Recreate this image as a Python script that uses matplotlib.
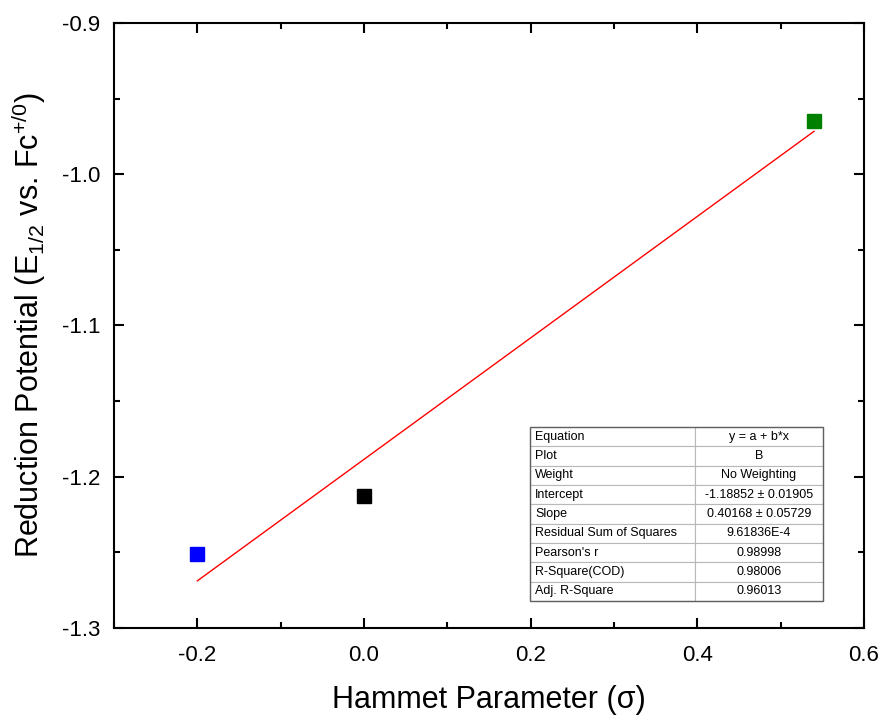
import matplotlib
matplotlib.use("Agg")
import matplotlib.pyplot as plt
import numpy as np
from matplotlib.ticker import MultipleLocator
from matplotlib.patches import Rectangle

plt.rcParams['font.family'] = ['Liberation Sans', 'DejaVu Sans']
plt.rcParams['mathtext.fontset'] = 'custom'
plt.rcParams['mathtext.rm'] = 'Liberation Sans'
plt.rcParams['mathtext.it'] = 'Liberation Sans:italic'
plt.rcParams['mathtext.default'] = 'regular'

# Data
sigma = [-0.2, 0.0, 0.54]
e_half = [-1.251, -1.2127, -0.9648]
colors = ['#0000ff', '#000000', '#008000']

intercept = -1.18852
slope = 0.40168

x_ticks = [-0.2, 0.0, 0.2, 0.4, 0.6]
x_ticklabels = ['-0.2', '0.0', '0.2', '0.4', '0.6']
y_ticks = [-1.3, -1.2, -1.1, -1.0, -0.9]
y_ticklabels = ['-1.3', '-1.2', '-1.1', '-1.0', '-0.9']

table_labels = ["Equation", "Plot", "Weight", "Intercept", "Slope",
                "Residual Sum of Squares", "Pearson's r", "R-Square(COD)", "Adj. R-Square"]
table_values = ["y = a + b*x", "B", "No Weighting", "-1.18852 \u00b1 0.01905",
                "0.40168 \u00b1 0.05729", "9.61836E-4", "0.98998", "0.98006", "0.96013"]

fig = plt.figure(figsize=(8.85, 7.19), dpi=100)
ax = fig.add_axes([0.1288, 0.1266, 0.8475, 0.8414])

xfit = np.array([min(sigma), max(sigma)])
ax.plot(xfit, intercept + slope * xfit, color='red', lw=1.0, zorder=2)
for x, y, c in zip(sigma, e_half, colors):
    ax.plot([x], [y], marker='s', ms=9.5, color=c, mec=c, ls='none', zorder=3)

ax.set_xlim(-0.3, 0.6)
ax.set_ylim(-1.3, -0.9)
ax.xaxis.set_minor_locator(MultipleLocator(0.1))
ax.yaxis.set_minor_locator(MultipleLocator(0.05))
ax.set_xticks(x_ticks)
ax.set_xticklabels(x_ticklabels)
ax.set_yticks(y_ticks)
ax.set_yticklabels(y_ticklabels)
ax.tick_params(which='both', direction='in', top=True, right=True, width=1.5, labelsize=16)
ax.tick_params(which='major', length=7, pad=10)
ax.tick_params(axis='x', which='major', pad=12)
ax.tick_params(which='minor', length=4)
for s in ax.spines.values():
    s.set_linewidth(1.5)

ax.set_xlabel('Hammet Parameter (\u03c3)', fontsize=22, labelpad=14)
ax.set_ylabel('Reduction Potential (E$_{1/2}$ vs. Fc$^{+/0}$)', fontsize=22, labelpad=10)

cell_text = [[l, v] for l, v in zip(table_labels, table_values)]
tbl = ax.table(cellText=cell_text, colWidths=[0.563, 0.437], cellLoc='center',
               bbox=[0.5547, 0.0446, 0.3906, 0.2876], zorder=5)
tbl.auto_set_font_size(False)
tbl.set_fontsize(9)
for (r, c), cell in tbl.get_celld().items():
    cell.set_edgecolor('#b8b8b8')
    cell.set_linewidth(0.8)
    cell.set_facecolor('white')
    if c == 0:
        cell._loc = 'left'
        cell.PAD = 0.03
        cell.get_text().set_ha('left')
ax.add_patch(Rectangle((0.5547, 0.0446), 0.3906, 0.2876, transform=ax.transAxes,
                       fill=False, ec='#606060', lw=1.0, zorder=6))

fig.savefig('out.png', dpi=100)
